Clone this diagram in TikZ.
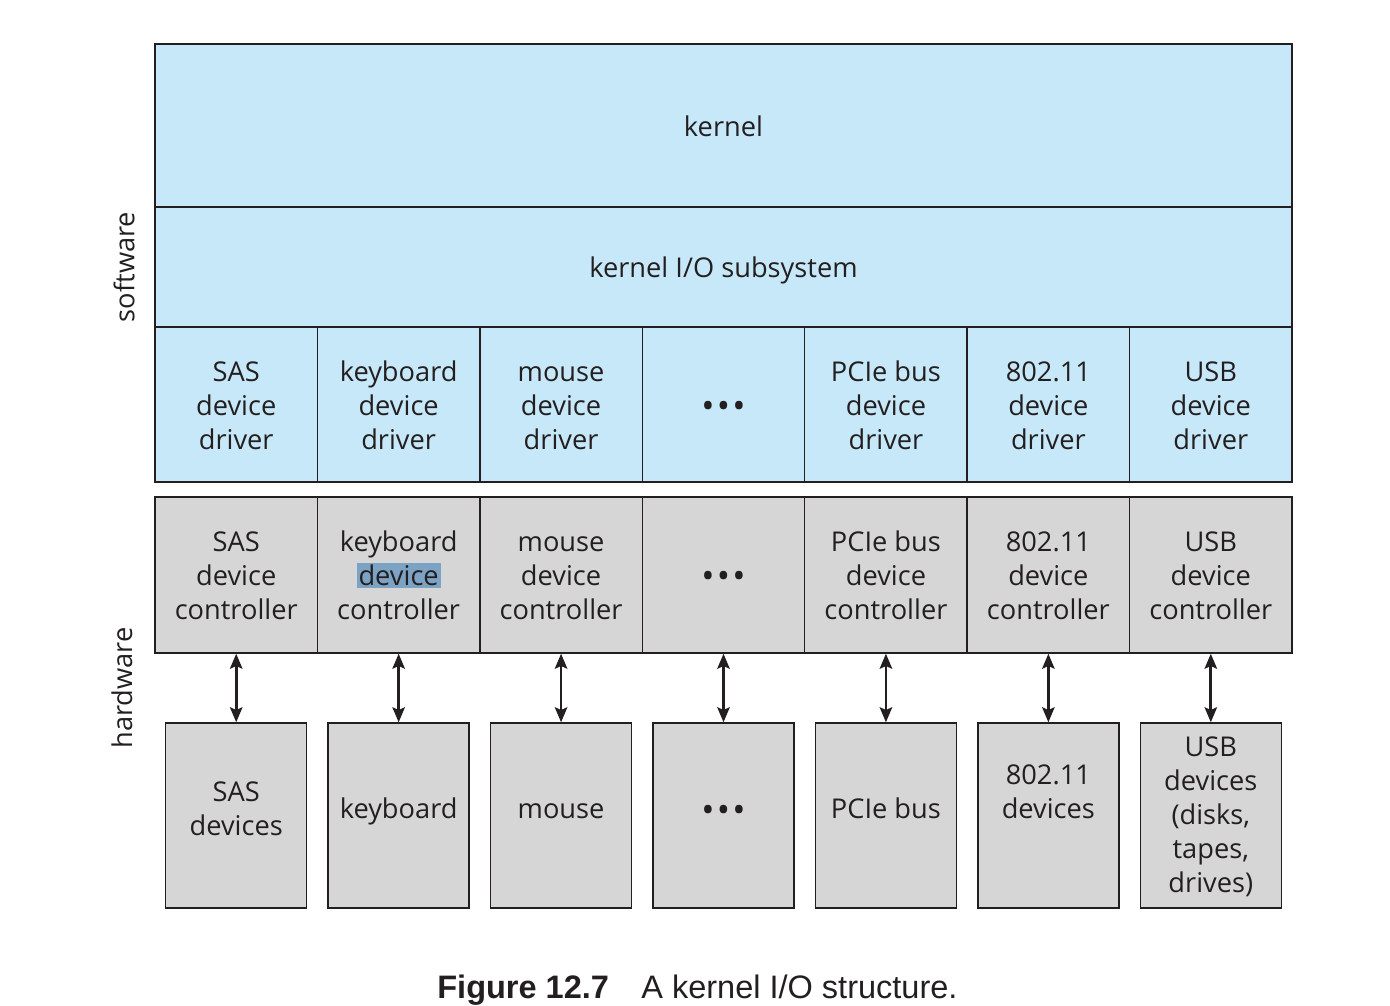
\documentclass[tikz,border=0pt]{standalone}
\usepackage{fontspec}
\setmainfont{Open Sans}
\newfontfamily\capfont{Liberation Sans}
\usetikzlibrary{arrows.meta}
\definecolor{softblue}{RGB}{199,232,248}
\definecolor{hardgray}{RGB}{214,214,215}
\definecolor{inkdark}{RGB}{35,31,32}
\definecolor{selblue}{RGB}{124,162,196}
\newcommand{\hilite}[1]{{\setlength{\fboxsep}{1pt}\colorbox{selblue}{#1}}}
\newcommand{\iodots}{\textbf{\textbullet\hspace{3pt}\textbullet\hspace{3pt}\textbullet}}
\newcommand{\iotop}{\rule{0pt}{16.3pt}}
\newcommand{\iobot}{\rule[-4pt]{0pt}{4pt}}

\begin{document}
\begin{tikzpicture}[x=0.02cm, y=-0.02cm,
    every node/.style={font=\fontsize{15.5}{19.4}\selectfont, text=inkdark, align=center},
    softbox/.style={draw=inkdark, fill=softblue, line width=0.8pt, inner sep=0pt},
    hardbox/.style={draw=inkdark, fill=hardgray, line width=0.8pt, inner sep=0pt},
    colbox/.style={minimum width=3.2486cm},
    link/.style={{Stealth[length=8.5pt,width=7pt,inset=1.5pt]}-{Stealth[length=8.5pt,width=7pt,inset=1.5pt]}, line width=1.6pt, draw=inkdark}]
    \useasboundingbox (0,0) rectangle (1390,1006);
    % software layers
    \node[softbox, minimum width=22.74cm, minimum height=3.26cm] (kern) at (723.5,125.5) {\iotop kernel\iobot};
    \node[softbox, minimum width=22.74cm, minimum height=2.4cm] (kio) at (723.5,267) {\iotop kernel I/O subsystem\iobot};
    % drivers, controllers and devices, column by column
    \foreach \i/\drv/\ctl/\dev/\ty in {
        1/{SAS\\device\\driver}/{SAS\\device\\controller}/{SAS\\devices}/808,
        2/{keyboard\\device\\driver}/{keyboard\\\hilite{device}\\controller}/{keyboard}/808,
        3/{mouse\\device\\driver}/{mouse\\device\\controller}/{mouse}/808,
        4/{\iodots}/{\iodots}/{\iodots}/809,
        5/{PCIe bus\\device\\driver}/{PCIe bus\\device\\controller}/{PCIe bus}/808,
        6/{802.11\\device\\driver}/{802.11\\device\\controller}/{802.11\\devices}/791,
        7/{USB\\device\\driver}/{USB\\device\\controller}/{USB\\devices\\(disks,\\tapes,\\drives)}/814}{
        \pgfmathsetmacro{\cx}{155+162.43*(\i-0.5)}
        \node[softbox, colbox, minimum height=3.1cm] (drv\i) at (\cx,404.5) {\iotop\drv\iobot};
        \node[hardbox, colbox, minimum height=3.12cm] (ctl\i) at (\cx,575) {\iotop\ctl\iobot};
        \node[hardbox, minimum width=2.82cm, minimum height=3.7cm] (dev\i) at (\cx,815.5) {};
        \node (devtxt\i) at (\cx,\ty) {\iotop\dev\iobot};
        \draw[link] (ctl\i) -- (dev\i);
    }
    % side labels
    \node[rotate=90] (sw) at (124,267) {software};
    \node[rotate=90] (hw) at (122,688) {hardware};
    % caption
    \node[font=\capfont\fontsize{18.5}{22}\selectfont\bfseries, anchor=base west, inner sep=0pt] (fig) at (437,998) {Figure 12.7};
    \node[font=\capfont\fontsize{18.5}{22}\selectfont, anchor=base west, inner sep=0pt] (capt) at (641,998) {A kernel I/O structure.};
\end{tikzpicture}
\end{document}
